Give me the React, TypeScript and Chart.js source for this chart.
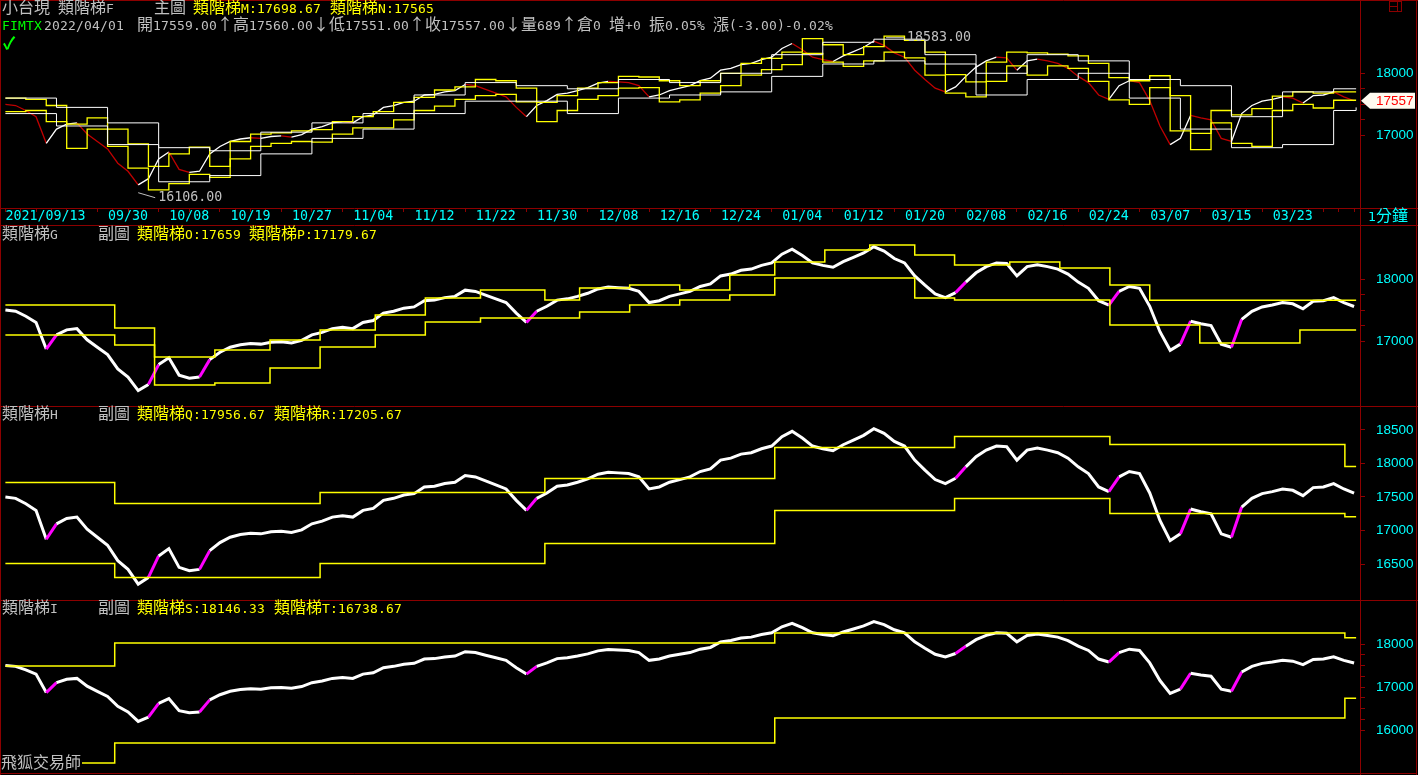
import React, { useEffect, useRef } from 'react';
import { Chart, registerables } from 'chart.js';
Chart.register(...registerables);

// ---------------- data ----------------
// x unit: trading day index counted from 2021/09/13
const PRICE: number[] = [
  17500, 17480, 17400, 17300, 16870, 17100, 17180, 17200, 17020, 16900,
  16780, 16550, 16420, 16200, 16300, 16620, 16730, 16450, 16400, 16420,
  16700, 16820, 16900, 16940, 16960, 16950, 16980, 16990, 16970, 17010,
  17100, 17140, 17200, 17220, 17200, 17300, 17330, 17450, 17480, 17530,
  17550, 17650, 17660, 17700, 17720, 17820, 17800, 17740, 17680, 17620,
  17450, 17300, 17480, 17560, 17660, 17680, 17720, 17770, 17840, 17870,
  17860, 17850, 17800, 17620, 17650, 17720, 17760, 17800, 17880, 17920,
  18050, 18080, 18140, 18160, 18220, 18260, 18400, 18480, 18380, 18260,
  18220, 18190, 18280, 18350, 18420, 18520, 18450, 18330, 18260, 18050,
  17900, 17760, 17700, 17780, 17950, 18100, 18200, 18260, 18250, 18050,
  18200, 18230, 18200, 18160, 18080, 17950, 17850, 17650, 17580, 17800,
  17880, 17850, 17560, 17150, 16850, 16950, 17320, 17280, 17250, 16950,
  16900, 17350, 17480, 17550, 17580, 17620, 17600, 17520, 17640, 17650,
  17700, 17620, 17557,
];
const LAST_PRICE = 17557;
const HIGH_MARK = { day: 86, value: 18583 };
const LOW_MARK = { day: 13, value: 16106 };

const DATE_LABELS = ['2021/09/13', '', '09/30', '10/08', '10/19', '10/27', '11/04', '11/12', '11/22', '11/30', '12/08', '12/16', '12/24', '01/04', '01/12', '01/20', '02/08', '02/16', '02/24', '03/07', '03/15', '03/23'];
const DAYS_PER_LABEL = 6;
const DAYS_PER_MINOR = 1.5;

// y axis ticks / labels per panel
const MAIN_TICKS = [17000, 17250, 17500, 17750, 18000];
const MAIN_LABELS = [17000, 18000];
const G_TICKS = [17000, 17250, 17500, 17750, 18000];
const G_LABELS = [17000, 18000];
const H_TICKS = [16500, 17000, 17500, 18000, 18500];
const H_LABELS = [16500, 17000, 17500, 18000, 18500];
const I_TICKS = [16000, 16250, 16500, 16750, 17000, 17250, 17500, 17750, 18000];
const I_LABELS = [16000, 17000, 18000];

// stairs: [start day, level held from that day until the next entry]
// main panel, yellow (every 2 days)
const M_STEPS: [number, number][] = [[0,17600],[2,17580],[4,17480],[6,17180],[8,17280],[10,17100],[12,16860],[14,16500],[16,16700],[18,16810],[20,16500],[22,16900],[24,17020],[26,17040],[28,17070],[30,17090],[32,17220],[34,17300],[36,17380],[38,17530],[40,17610],[42,17730],[44,17780],[46,17900],[48,17880],[50,17760],[52,17530],[54,17640],[56,17760],[58,17850],[60,17950],[62,17940],[64,17880],[66,17800],[68,17880],[70,18000],[72,18160],[74,18240],[76,18340],[78,18560],[80,18460],[82,18300],[84,18430],[86,18600],[88,18530],[90,18340],[92,17980],[94,17860],[96,18180],[98,18340],[100,18330],[102,18310],[104,18280],[106,18160],[108,17930],[110,17880],[112,17960],[114,17640],[116,17030],[118,17400],[120,17330],[122,17430],[124,17630],[126,17700],[128,17680],[130,17698.67],[132.2,17698.67]];
const N_STEPS: [number, number][] = [[0,17380],[2,17400],[4,17220],[6,16790],[8,17100],[10,16820],[12,16470],[14,16120],[16,16220],[18,16370],[20,16320],[22,16620],[24,16820],[26,16870],[28,16900],[30,16890],[32,17020],[34,17120],[36,17120],[38,17250],[40,17400],[42,17470],[44,17580],[46,17640],[48,17660],[50,17540],[52,17220],[54,17400],[56,17580],[58,17640],[60,17760],[62,17770],[64,17540],[66,17570],[68,17680],[70,17800],[72,17970],[74,18060],[76,18140],[78,18320],[80,18180],[82,18110],[84,18200],[86,18340],[88,18250],[90,17970],[92,17680],[94,17620],[96,17870],[98,18120],[100,17970],[102,18120],[104,18080],[106,17870],[108,17570],[110,17500],[112,17770],[114,17070],[116,16770],[118,17200],[120,16870],[122,16820],[124,17400],[126,17500],[128,17440],[130,17565],[132.2,17565]];
// main panel, white (weekly)
const F_UP_STEPS: [number, number][] = [[0,17600],[5,17450],[10,17200],[15,16800],[20,16750],[25,17050],[30,17200],[35,17350],[40,17650],[45,17850],[50,17800],[55,17750],[60,17900],[65,17850],[70,18000],[75,18300],[80,18500],[85,18550],[90,18300],[95,18000],[100,18300],[105,18200],[110,17900],[115,17800],[120,17300],[125,17700],[130,17750],[132.2,17750]];
const F_DN_STEPS: [number, number][] = [[0,17350],[5,17150],[10,16850],[15,16250],[20,16350],[25,16700],[30,16950],[35,17100],[40,17350],[45,17550],[50,17550],[55,17350],[60,17600],[65,17650],[70,17700],[75,17950],[80,18150],[85,18200],[90,18150],[95,17650],[100,17900],[105,18000],[110,17600],[115,17100],[120,16800],[125,16850],[130,17400],[132.2,17450]];

// panel G (weekly)
const O_STEPS: [number, number][] = [[0,17581],[10.7,17210],[14.6,16742],[20.5,16855],[25.9,17016],[30.8,17177],[36.2,17419],[41.1,17694],[46.5,17823],[52.8,17661],[56.2,17855],[61.1,17903],[66,17823],[70.9,18065],[75.3,18274],[80.2,18468],[84.6,18548],[89,18387],[92.9,18226],[98.3,18274],[103.2,18177],[108.1,17903],[112,17659],[132.2,17659]];
const P_STEPS: [number, number][] = [[0,17097],[10.7,16935],[14.6,16290],[20.5,16323],[25.9,16565],[30.8,16903],[36.2,17097],[41.1,17306],[46.5,17371],[56.2,17468],[61.1,17581],[66,17661],[70.9,17742],[75.3,18016],[89,17694],[92.9,17661],[108.1,17258],[116.9,16968],[126.7,17179.67],[132.2,17179.67]];

// panel H (monthly)
const Q_STEPS: [number, number][] = [[0,17716],[10.7,17403],[30.8,17567],[52.8,17776],[75.3,18239],[92.9,18403],[108.1,18284],[131.1,17956.67],[132.2,17956.67]];
const R_STEPS: [number, number][] = [[0,16507],[10.7,16299],[30.8,16507],[52.8,16806],[75.3,17299],[92.9,17478],[108.1,17254],[131.1,17205.67],[132.2,17205.67]];

// panel I (quarterly)
const S_STEPS: [number, number][] = [[0,17488],[10.7,18023],[75.3,18256],[131.1,18146.33],[132.2,18146.33]];
const T_STEPS: [number, number][] = [[0,15233],[10.7,15698],[75.3,16279],[131.1,16738.67],[132.2,16738.67]];

// ---------------- styling ----------------
const RED = '#8c0000';
const YELLOW = '#ffff00';
const CYAN = '#00ffff';
const GREY = '#c0c0c0';
const AXIS_FONT = { family: "'Liberation Sans',Arial,sans-serif", size: 13.5, lineHeight: 1 };
const DATE_FONT = { family: "'DejaVu Sans Mono','Liberation Mono',monospace", size: 13.3, lineHeight: 1 };
const X_MIN = -0.43;
const X_MAX = 132.58;
const AXIS_W = 58;

const pricePts = () => PRICE.map((v, i) => ({ x: i, y: v }));
const stepPts = (s: [number, number][]) => s.map(([x, y]) => ({ x, y }));

function stairDs(s: [number, number][], color: string, width = 1.5) {
  // 'before' in Chart.js: hold the previous level horizontally, then jump at the next x
  return { data: stepPts(s), borderColor: color, borderWidth: width, stepped: 'before' as const, pointRadius: 0, fill: false };
}

function framePlugin(kind: 'main' | 'mid' | 'last') {
  return {
    id: 'frame' + kind,
    afterDraw(chart: any) {
      const { ctx, width, height, chartArea } = chart;
      ctx.save();
      ctx.strokeStyle = RED;
      ctx.lineWidth = 1;
      ctx.beginPath();
      ctx.moveTo(0, 0.5); ctx.lineTo(width, 0.5);
      ctx.moveTo(0.5, 0); ctx.lineTo(0.5, height);
      ctx.moveTo(chartArea.right + 0.5, 0); ctx.lineTo(chartArea.right + 0.5, height);
      ctx.moveTo(1416.5, 0); ctx.lineTo(1416.5, height);
      if (kind === 'main') { ctx.moveTo(0, chartArea.bottom + 0.5); ctx.lineTo(width, chartArea.bottom + 0.5); }
      if (kind === 'last') { ctx.moveTo(0, chartArea.bottom + 0.5); ctx.lineTo(1417, chartArea.bottom + 0.5); }
      ctx.stroke();
      ctx.restore();
    },
  };
}

const markPlugin = {
  id: 'marks',
  afterDatasetsDraw(chart: any) {
    const { ctx, scales } = chart;
    const x = scales.x, y = scales.y;
    ctx.save();
    ctx.font = "13.3px 'DejaVu Sans Mono','Liberation Mono',monospace";
    ctx.fillStyle = GREY;
    ctx.strokeStyle = GREY;
    ctx.lineWidth = 1;
    ctx.textBaseline = 'middle';
    const hx = x.getPixelForValue(HIGH_MARK.day), hy = y.getPixelForValue(HIGH_MARK.value);
    ctx.beginPath(); ctx.moveTo(hx + 2, hy + 0.5); ctx.lineTo(hx + 20, hy + 0.5); ctx.stroke();
    ctx.fillText(HIGH_MARK.value.toFixed(2), hx + 23, hy);
    const lx = x.getPixelForValue(LOW_MARK.day), ly = y.getPixelForValue(LOW_MARK.value);
    ctx.beginPath(); ctx.moveTo(lx, ly + 2); ctx.lineTo(lx + 17, ly + 7); ctx.stroke();
    ctx.fillText(LOW_MARK.value.toFixed(2), lx + 20, ly + 7);
    const py = y.getPixelForValue(LAST_PRICE);
    const l = chart.chartArea.right + 1;
    ctx.fillStyle = '#fffbf0';
    ctx.beginPath();
    ctx.moveTo(l, py); ctx.lineTo(l + 9, py - 8); ctx.lineTo(l + 54, py - 8); ctx.lineTo(l + 54, py + 8); ctx.lineTo(l + 9, py + 8); ctx.closePath();
    ctx.fill();
    ctx.fillStyle = '#ff0000';
    ctx.font = "13.5px 'Liberation Sans',Arial,sans-serif";
    ctx.fillText(String(LAST_PRICE), l + 15, py + 1);
    ctx.restore();
  },
};

function yScale(min: number, max: number, ticks: number[], labels: number[]) {
  return {
    type: 'linear' as const,
    position: 'right' as const,
    min, max,
    afterBuildTicks: (s: any) => { s.ticks = ticks.map((value) => ({ value })); },
    afterFit: (s: any) => { s.width = AXIS_W; s.paddingTop = 0; s.paddingBottom = 0; },
    grid: { drawOnChartArea: false, drawTicks: true, tickLength: 5, color: RED, tickColor: RED },
    border: { display: false },
    ticks: {
      color: CYAN, font: AXIS_FONT, padding: 11, autoSkip: false,
      callback: (v: number) => (labels.includes(v) ? String(v) : ''),
    },
  };
}

function xScale(show: boolean) {
  return {
    type: 'linear' as const,
    min: X_MIN, max: X_MAX,
    display: show,
    afterBuildTicks: (s: any) => {
      const t: { value: number }[] = [];
      for (let v = 0; v <= X_MAX; v += DAYS_PER_MINOR) t.push({ value: v });
      s.ticks = t;
    },
    afterFit: (s: any) => { s.height = show ? 17 : 0; s.paddingLeft = 0; s.paddingRight = 0; },
    grid: { drawOnChartArea: false, drawTicks: true, tickLength: 4, color: RED, tickColor: RED },
    border: { display: false },
    ticks: {
      color: CYAN, font: DATE_FONT, padding: -2, autoSkip: false, maxRotation: 0, minRotation: 0, align: 'inner' as const,
      callback: (v: number) => {
        const k = v / DAYS_PER_LABEL;
        return Math.abs(k - Math.round(k)) < 1e-6 ? (DATE_LABELS[Math.round(k)] ?? '') : '';
      },
    },
  };
}

function baseOptions(x: any, y: any, padBottom: number) {
  return {
    animation: false as const,
    responsive: false,
    devicePixelRatio: 1,
    events: [],
    layout: { padding: { left: 1, top: 1, right: 0, bottom: padBottom }, autoPadding: false },
    plugins: { legend: { display: false }, tooltip: { enabled: false } },
    elements: { point: { radius: 0 }, line: { tension: 0 } },
    scales: { x, y },
  };
}

function thickPrice() {
  return {
    data: pricePts(), borderColor: '#ffffff', borderWidth: 3, pointRadius: 0, fill: false,
    segment: { borderColor: (c: any) => (c.p1.parsed.y - c.p0.parsed.y > 150 ? '#ff00ff' : '#ffffff') },
  };
}

const CSS = `
@font-face { font-family: 'HalfMono'; src: local('DejaVu Sans Mono'), local('DejaVuSansMono'); size-adjust: 83.4%; unicode-range: U+0020-007E; }
`;

export default function App() {
  const r1 = useRef<HTMLCanvasElement>(null);
  const r2 = useRef<HTMLCanvasElement>(null);
  const r3 = useRef<HTMLCanvasElement>(null);
  const r4 = useRef<HTMLCanvasElement>(null);

  useEffect(() => {
    document.body.style.margin = '0';
    document.body.style.background = '#000';
    const charts: Chart[] = [];
    charts.push(new Chart(r1.current!, {
      type: 'line',
      data: {
        datasets: [
          stairDs(F_UP_STEPS, '#ffffff', 1),
          stairDs(F_DN_STEPS, '#ffffff', 1),
          stairDs(M_STEPS, YELLOW, 1.3),
          stairDs(N_STEPS, YELLOW, 1.3),
          {
            data: pricePts(), borderColor: '#ffffff', borderWidth: 1.3, pointRadius: 0, fill: false,
            segment: { borderColor: (c: any) => (c.p1.parsed.y < c.p0.parsed.y ? '#c00000' : '#ffffff') },
          } as any,
        ],
      },
      options: baseOptions(xScale(true), yScale(15827, 19166, MAIN_TICKS, MAIN_LABELS), 0) as any,
      plugins: [framePlugin('main'), markPlugin],
    }));
    charts.push(new Chart(r2.current!, {
      type: 'line',
      data: { datasets: [stairDs(O_STEPS, YELLOW), stairDs(P_STEPS, YELLOW), thickPrice() as any] },
      options: baseOptions(xScale(false), yScale(15952, 18855, G_TICKS, G_LABELS), 0) as any,
      plugins: [framePlugin('mid')],
    }));
    charts.push(new Chart(r3.current!, {
      type: 'line',
      data: { datasets: [stairDs(Q_STEPS, YELLOW), stairDs(R_STEPS, YELLOW), thickPrice() as any] },
      options: baseOptions(xScale(false), yScale(15963, 18843, H_TICKS, H_LABELS), 0) as any,
      plugins: [framePlugin('mid')],
    }));
    charts.push(new Chart(r4.current!, {
      type: 'line',
      data: { datasets: [stairDs(S_STEPS, YELLOW), stairDs(T_STEPS, YELLOW), thickPrice() as any] },
      options: baseOptions(xScale(false), yScale(15000, 19000, I_TICKS, I_LABELS), 2) as any,
      plugins: [framePlugin('last')],
    }));
    return () => charts.forEach((c) => c.destroy());
  }, []);

  const txt = (left: number, top: number, color: string, s: string, extra: React.CSSProperties = {}) => (
    <span style={{ position: 'absolute', left, top, color, whiteSpace: 'pre', ...extra }}>{s}</span>
  );

  return (
    <div style={{ position: 'fixed', left: 0, top: 0, width: 1418, height: 775, background: '#000', overflow: 'hidden', fontFamily: "'HalfMono','Noto Sans CJK TC',monospace", fontSize: 16, lineHeight: '16px' }}>
      <style>{CSS}</style>
      <canvas ref={r1} width={1418} height={225} style={{ position: 'absolute', left: 0, top: 0 }} />
      <canvas ref={r2} width={1418} height={181} style={{ position: 'absolute', left: 0, top: 225 }} />
      <canvas ref={r3} width={1418} height={194} style={{ position: 'absolute', left: 0, top: 406 }} />
      <canvas ref={r4} width={1418} height={175} style={{ position: 'absolute', left: 0, top: 600 }} />

      {txt(2, 1, GREY, '小台現')}
      {txt(58, 1, GREY, '類階梯F')}
      {txt(154, 1, GREY, '主圖')}
      {txt(193, 1, YELLOW, '類階梯M:17698.67')}
      {txt(330, 1, YELLOW, '類階梯N:17565')}
      {txt(2, 18, '#00ff00', 'FIMTX')}
      {txt(44, 18, GREY, '2022/04/01')}
      {txt(137, 18, GREY, '開17559.00↑高17560.00↓低17551.00↑收17557.00↓量689↑倉0 增+0 振0.05% 漲(-3.00)-0.02%')}
      {txt(3, 36, '#00ff00', '✓', { fontSize: 17, fontWeight: 'bold' })}

      {txt(1368, 209, CYAN, '1分鐘')}
      <div style={{ position: 'absolute', left: 1389, top: 1, width: 11, height: 9, border: `1px solid ${RED}` }}>
        <div style={{ position: 'absolute', left: 0, top: 4, width: 7, height: 0, borderTop: `1px solid ${RED}` }} />
        <div style={{ position: 'absolute', left: 7, top: 0, width: 0, height: 9, borderLeft: `1px solid ${RED}` }} />
      </div>

      {txt(2, 227, GREY, '類階梯G')}
      {txt(98, 227, GREY, '副圖')}
      {txt(137, 227, YELLOW, '類階梯O:17659')}
      {txt(249, 227, YELLOW, '類階梯P:17179.67')}

      {txt(2, 407, GREY, '類階梯H')}
      {txt(98, 407, GREY, '副圖')}
      {txt(137, 407, YELLOW, '類階梯Q:17956.67')}
      {txt(274, 407, YELLOW, '類階梯R:17205.67')}

      {txt(2, 601, GREY, '類階梯I')}
      {txt(98, 601, GREY, '副圖')}
      {txt(137, 601, YELLOW, '類階梯S:18146.33')}
      {txt(274, 601, YELLOW, '類階梯T:16738.67')}

      {txt(1, 756, GREY, '飛狐交易師', { background: '#000', paddingRight: 1 })}
    </div>
  );
}
